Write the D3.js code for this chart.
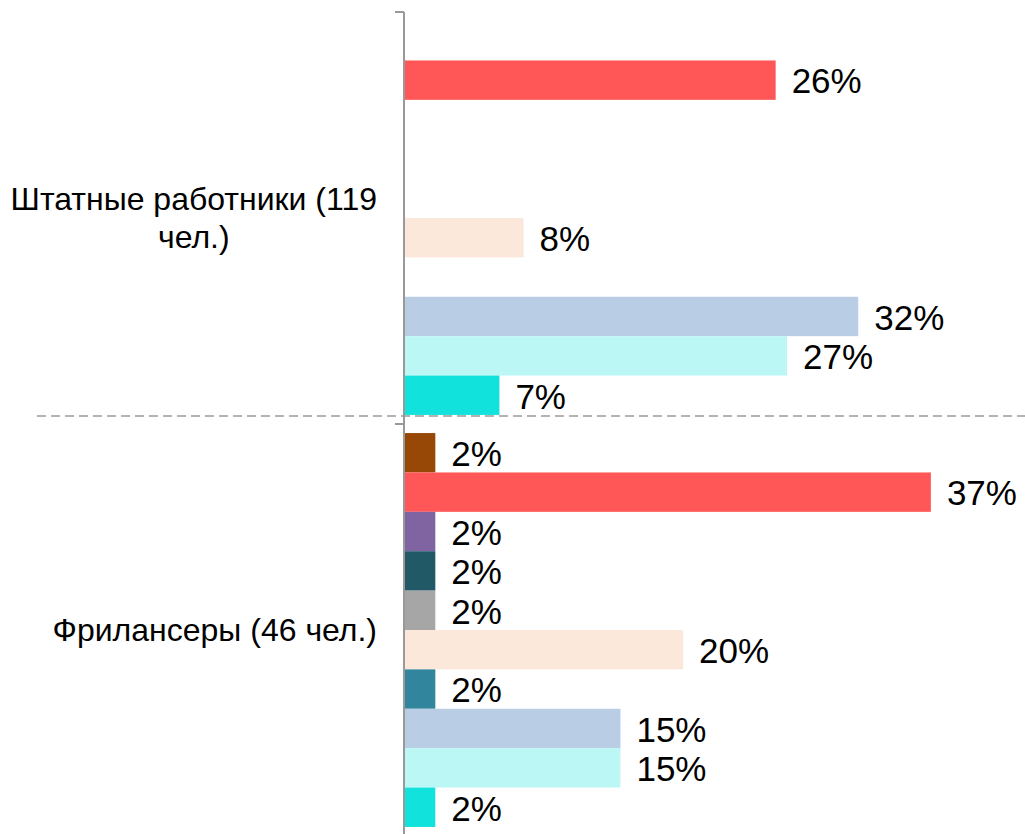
<!DOCTYPE html>
<html>
<head>
<meta charset="utf-8">
<script src="https://cdn.jsdelivr.net/npm/d3@7"></script>
<style>
  body { margin: 0; background: #fff; }
  text { font-family: "Liberation Sans", Arial, sans-serif; fill: #000; }
</style>
</head>
<body>
<script>
var width = 1025;
var height = 834;

// categories, top to bottom
var categories = ['Штатные работники (119 чел.)', 'Фрилансеры (46 чел.)'];

// one slot per series inside each group, top to bottom
var seriesColors = ['#974706', '#FF5757', '#8064A2', '#215967', '#A6A6A6',
  '#FCE8DA', '#31859C', '#B9CDE5', '#BBF7F4', '#12E2DC'];

// percent of respondents, 0 = no bar
var staffValues = [0, 26.1, 0, 0, 0, 8.4, 0, 31.9, 26.9, 6.7];
var freelanceValues = [2.2, 37.0, 2.2, 2.2, 2.2, 19.6, 2.2, 15.2, 15.2, 2.2];

var groups = [staffValues, freelanceValues];

var svg = d3.select('body').append('svg')
  .attr('width', width)
  .attr('height', height);

var x = d3.scaleLinear()
  .domain([0, 40])
  .range([404, 973.6]);

var y = d3.scaleBand()
  .domain(categories)
  .range([12, 836]);

var ySlot = d3.scaleBand()
  .domain(d3.range(seriesColors.length))
  .range([0, y.bandwidth()])
  .paddingOuter(0.23);

// dashed separator between groups
svg.append('line')
  .attr('x1', 37)
  .attr('x2', width)
  .attr('y1', y(categories[1]) - 8)
  .attr('y2', y(categories[1]) - 8)
  .attr('stroke', '#b3b3b3')
  .attr('stroke-width', 2)
  .attr('stroke-dasharray', '9,5');

var group = svg.selectAll('.group')
  .data(groups)
  .enter()
    .append('g')
    .attr('class', 'group')
    .attr('transform', function(d, i) { return 'translate(0,' + y(categories[i]) + ')'; });

var bars = group.selectAll('.bar')
  .data(function(d) {
    return d.map(function(v, j) { return { value: v, slot: j }; }).filter(function(e) { return e.value > 0; });
  })
  .enter();

bars.append('rect')
  .attr('class', 'bar')
  .attr('x', x(0))
  .attr('y', function(d) { return ySlot(d.slot); })
  .attr('width', function(d) { return x(d.value) - x(0); })
  .attr('height', ySlot.bandwidth())
  .attr('fill', function(d) { return seriesColors[d.slot]; });

bars.append('text')
  .attr('x', function(d) { return x(d.value) + 16; })
  .attr('y', function(d) { return ySlot(d.slot) + ySlot.bandwidth() / 2; })
  .attr('dy', '0.38em')
  .style('font-size', '35px')
  .text(function(d) { return Math.round(d.value) + '%'; });

// vertical category axis
var axis = svg.append('g').attr('class', 'axis');
axis.append('line')
  .attr('x1', x(0)).attr('x2', x(0))
  .attr('y1', y.range()[0]).attr('y2', y.range()[1])
  .attr('stroke', '#999').attr('stroke-width', 2);
axis.selectAll('.tick')
  .data(categories)
  .enter()
    .append('line')
    .attr('class', 'tick')
    .attr('x1', x(0) - 9).attr('x2', x(0))
    .attr('y1', function(d) { return y(d); })
    .attr('y2', function(d) { return y(d); })
    .attr('stroke', '#999').attr('stroke-width', 2);

// category labels, wrapped, block right-aligned and lines centred
var labelRight = 377;
var maxWidth = 372;
categories.forEach(function(cat) {
  var t = svg.append('text').style('font-size', '32px').attr('text-anchor', 'middle');
  var words = cat.split(' ');
  var lines = [];
  var line = [];
  var tsp = t.append('tspan');
  words.forEach(function(w) {
    line.push(w);
    tsp.text(line.join(' '));
    if (tsp.node().getComputedTextLength() > maxWidth && line.length > 1) {
      line.pop();
      lines.push(line.join(' '));
      line = [w];
    }
  });
  lines.push(line.join(' '));
  tsp.remove();
  var widths = lines.map(function(l) {
    var s = t.append('tspan').text(l);
    var w = s.node().getComputedTextLength();
    s.remove();
    return w;
  });
  var cx = labelRight - d3.max(widths) / 2;
  var lh = 38;
  var cy = y(cat) + y.bandwidth() / 2 - (lines.length - 1) * lh / 2;
  lines.forEach(function(l, k) {
    t.append('tspan')
      .attr('x', cx)
      .attr('y', cy + k * lh)
      .attr('dy', '0.35em')
      .text(l);
  });
});
</script>
</body>
</html>
